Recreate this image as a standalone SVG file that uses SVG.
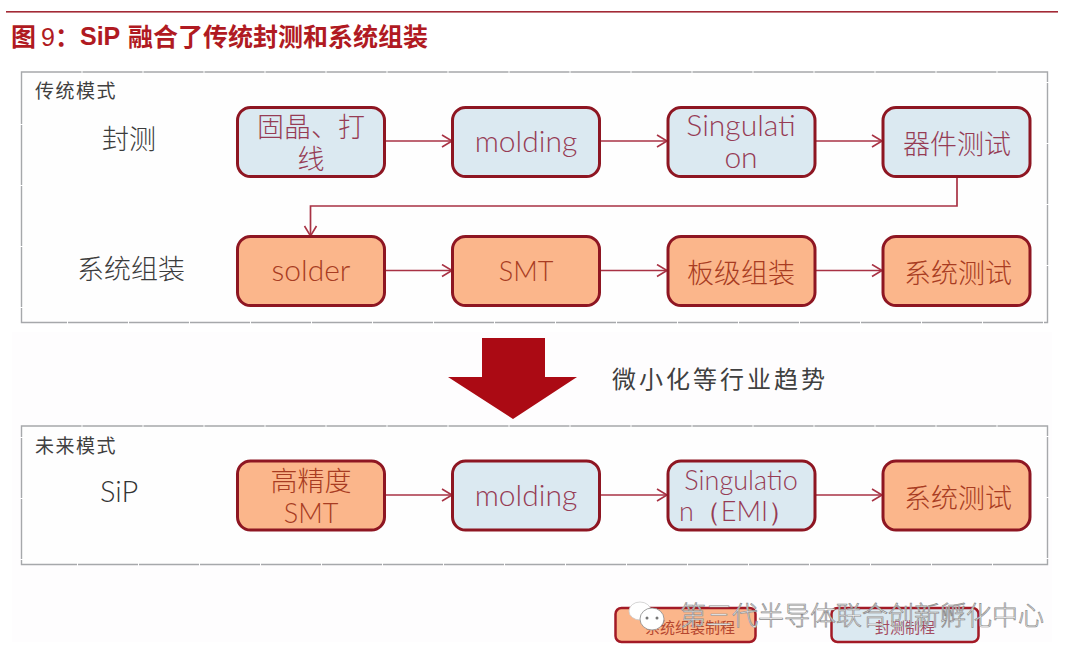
<svg xmlns="http://www.w3.org/2000/svg" width="1080" height="663" viewBox="0 0 1080 663">
<defs>
<marker id="arr" markerUnits="userSpaceOnUse" markerWidth="14" markerHeight="16" refX="11" refY="7" orient="auto"><path d="M1,1 L11,7 L1,13" fill="none" stroke="#a83244" stroke-width="1.6"/></marker>
</defs>
<style>
.cn{font-family:"Noto Sans CJK SC","Liberation Sans",sans-serif}
.frame{fill:#fefefe;stroke:#a6a8ab;stroke-width:1.4;stroke-dasharray:60 1}
.n{stroke:#8e1622;stroke-width:3}
.b{fill:#dbe9f1}.o{fill:#fbb68b}
.tb,.to{font-family:"Noto Sans CJK SC",sans-serif;font-size:27px;text-anchor:middle;font-weight:300}
.tb{fill:#963c55}.to{fill:#a83c22}
.lat{font-family:"Lato",sans-serif;font-size:30px;font-weight:300}
.lab{font-family:"Noto Sans CJK SC",sans-serif;font-size:27px;fill:#3c3c3c;font-weight:300}
.ser{font-family:"Noto Sans CJK SC",sans-serif;font-size:19px;fill:#404040;letter-spacing:1.5px}
.ttl{font-family:"Noto Sans CJK SC","Liberation Sans",sans-serif;font-size:25px;font-weight:700;fill:#b01a22}
.c{fill:none;stroke:#a83244;stroke-width:1.7;marker-end:url(#arr)}
</style>
<rect width="1080" height="663" fill="#ffffff"/>
<rect x="12" y="332" width="1040" height="310" fill="#fefdfe"/>
<rect x="6" y="11" width="1052" height="1.6" fill="#a32a35"/>
<text class="ttl" x="11" y="46">图</text>
<text x="41" y="46" font-family="Liberation Sans,sans-serif" font-size="25" fill="#b01a22">9</text>
<text class="ttl" x="55" y="46">：</text>
<text x="80" y="45" font-family="Liberation Sans,sans-serif" font-size="25" font-weight="700" fill="#b01a22">SiP</text>
<text class="ttl" x="128" y="46">融合了传统封测和系统组装</text>

<g id="frame-traditional"><rect class="frame" x="21.500" y="72" width="1026" height="250.500"/><text class="ser" x="35" y="98">传统模式</text></g>
<g id="frame-future"><rect class="frame" x="21.500" y="426" width="1026" height="138.500"/><text class="ser" x="35" y="453">未来模式</text></g>
<text class="lab" x="102" y="149">封测</text>
<text class="lab" x="77" y="279">系统组装</text>
<text x="100" y="502" font-family="Lato,sans-serif" font-size="29" font-weight="300" fill="#333">SiP</text>

<g id="connectors">
<line class="c" x1="385" y1="141" x2="452" y2="141"/>
<line class="c" x1="600" y1="141" x2="667" y2="141"/>
<line class="c" x1="816" y1="141" x2="882" y2="141"/>
<polyline class="c" points="957,177 957,206 310.500,206 310.500,236"/>
<line class="c" x1="385" y1="270.500" x2="452" y2="270.500"/>
<line class="c" x1="600" y1="270.500" x2="667" y2="270.500"/>
<line class="c" x1="816" y1="270.500" x2="882" y2="270.500"/>
<line class="c" x1="385" y1="495" x2="452" y2="495"/>
<line class="c" x1="600" y1="495" x2="667" y2="495"/>
<line class="c" x1="816" y1="495" x2="882" y2="495"/>
</g>

<g id="n1"><rect class="n b" x="237.500" y="107.500" width="147" height="69" rx="13"/><text class="tb" x="311" y="137">固晶、打</text><text class="tb" x="311" y="169">线</text></g>
<g id="n2"><rect class="n b" x="452.500" y="107.500" width="147" height="69" rx="13"/><text class="tb lat" x="526" y="152">molding</text></g>
<g id="n3"><rect class="n b" x="668" y="107.500" width="147" height="69" rx="13"/><text class="tb lat" x="741" y="136">Singulati</text><text class="tb lat" x="741" y="168">on</text></g>
<g id="n4"><rect class="n b" x="883" y="107.500" width="147" height="69" rx="13"/><text class="tb" x="957" y="154">器件测试</text></g>
<g id="n5"><rect class="n o" x="237.500" y="236.500" width="147" height="69" rx="13"/><text class="to lat" x="311" y="281">solder</text></g>
<g id="n6"><rect class="n o" x="452.500" y="236.500" width="147" height="69" rx="13"/><text class="to lat" style="font-size:27px" x="526" y="281">SMT</text></g>
<g id="n7"><rect class="n o" x="668" y="236.500" width="147" height="69" rx="13"/><text class="to" x="741" y="283">板级组装</text></g>
<g id="n8"><rect class="n o" x="883" y="236.500" width="147" height="69" rx="13"/><text class="to" x="958" y="283">系统测试</text></g>
<g id="n9"><rect class="n o" x="237.500" y="461" width="147" height="69" rx="13"/><text class="to" x="311" y="491">高精度</text><text class="to lat" style="font-size:27px" x="311" y="523">SMT</text></g>
<g id="n10"><rect class="n b" x="452.500" y="461" width="147" height="69" rx="13"/><text class="tb lat" x="526" y="506">molding</text></g>
<g id="n11"><rect class="n b" x="668" y="461" width="147" height="69" rx="13"/><text class="tb lat" style="font-size:27px" x="741" y="490">Singulatio</text><text class="tb lat" style="font-size:27px;text-anchor:start" x="679" y="521">n（EMI）</text></g>
<g id="n12"><rect class="n o" x="883" y="461" width="147" height="69" rx="13"/><text class="to" x="958" y="508">系统测试</text></g>

<g id="big-arrow"><polygon points="482,338 545,338 545,377 577,377 513,419 448,377 482,377" fill="#ab0a14"/><text class="ser" style="font-size:24px;letter-spacing:3px" x="612" y="388">微小化等行业趋势</text></g>

<g id="legend-a"><rect x="615.500" y="608" width="140" height="34" rx="6" fill="#fbb68b" stroke="#a31a26" stroke-width="2.500"/><text class="cn" x="645" y="633" font-size="15" fill="#b5462f">系统组装制程</text></g>
<g id="legend-b"><rect x="831.500" y="608" width="147" height="34" rx="6" fill="#dbe9f1" stroke="#a31a26" stroke-width="2.500"/><text class="cn" x="875" y="633" font-size="15" fill="#a34c62">封测制程</text></g>
<g id="watermark">
<ellipse cx="640" cy="611" rx="11" ry="9" fill="#fff" stroke="#ccc" stroke-width="0.800"/><ellipse cx="652" cy="619" rx="12" ry="11" fill="#fff" stroke="#888" stroke-width="0.800"/>
<circle cx="647" cy="618" r="1.500" fill="#777"/><circle cx="657" cy="618" r="1.500" fill="#777"/>
<text class="cn" x="680" y="625" font-size="26" fill="#fff" stroke="#8a8a8a" stroke-width="0.700" font-weight="300">第三代半导体联合创新孵化中心</text></g>
</svg>
